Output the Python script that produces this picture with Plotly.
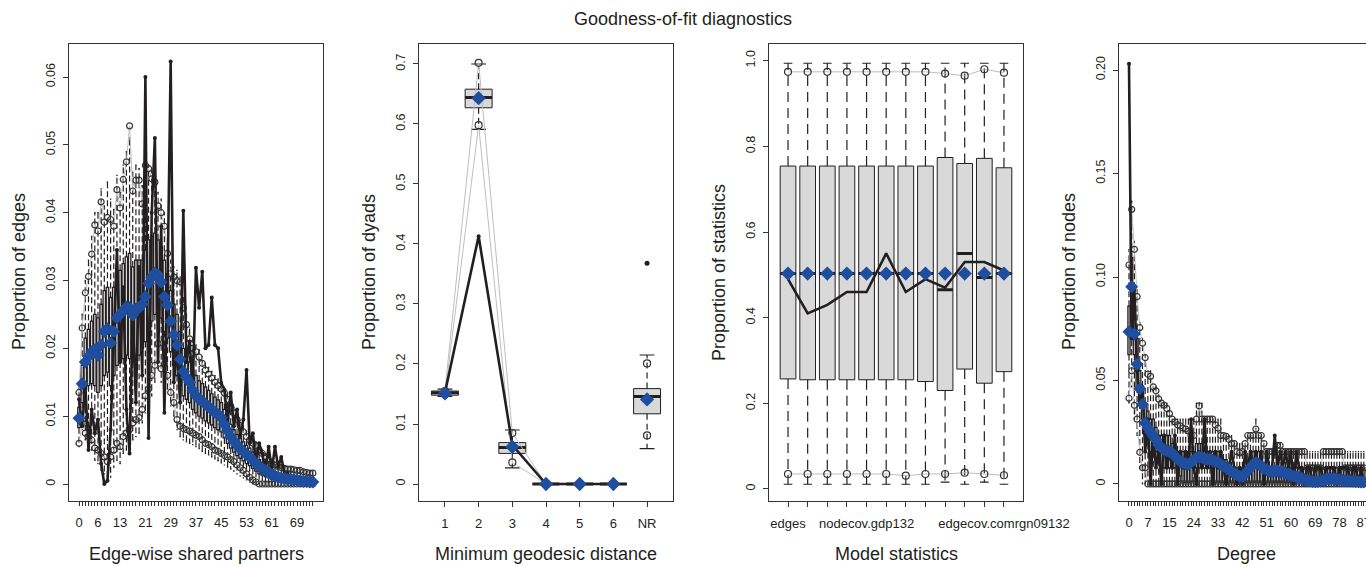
import plotly.graph_objects as go

# ===================== DATA =====================
# Panel 1 - edge-wise shared partners (categories 0..74)
esp_cat = list(range(75))
esp_tick_labels = ['0', '6', '13', '21', '29', '37', '45', '53', '61', '69']
esp_mean = [0.0097, 0.0148, 0.0180, 0.0188, 0.0195, 0.0198, 0.0190, 0.0205, 0.0225, 0.0229,
            0.0208, 0.0225, 0.0245, 0.0250, 0.0255, 0.0261, 0.0260, 0.0249, 0.0258, 0.0260,
            0.0265, 0.0276, 0.0296, 0.0305, 0.0311, 0.0308, 0.0298, 0.0276, 0.0264, 0.0240,
            0.0220, 0.0205, 0.0184, 0.0166, 0.0157, 0.0150, 0.0138, 0.0130, 0.0125, 0.0122,
            0.0118, 0.0114, 0.0110, 0.0106, 0.0102, 0.0098, 0.0088, 0.0078, 0.0070, 0.0063,
            0.0057, 0.0052, 0.0048, 0.0044, 0.0040, 0.0035, 0.0030, 0.0026, 0.0023, 0.0020,
            0.0017, 0.0014, 0.0012, 0.0010, 0.0009, 0.0008, 0.0007, 0.0007, 0.0006, 0.0006,
            0.0005, 0.0004, 0.0004, 0.0003, 0.0003]
esp_q3 = [0.0113, 0.0175, 0.0215, 0.0228, 0.0240, 0.0250, 0.0245, 0.0265, 0.0285, 0.0290,
          0.0275, 0.0290, 0.0310, 0.0315, 0.0325, 0.0335, 0.0340, 0.0320, 0.0330, 0.0330,
          0.0330, 0.0345, 0.0360, 0.0365, 0.0370, 0.0360, 0.0350, 0.0330, 0.0310, 0.0285,
          0.0265, 0.0250, 0.0225, 0.0200, 0.0190, 0.0180, 0.0168, 0.0160, 0.0152, 0.0148,
          0.0143, 0.0138, 0.0133, 0.0128, 0.0124, 0.0120, 0.0110, 0.0098, 0.0088, 0.0080,
          0.0073, 0.0067, 0.0062, 0.0057, 0.0053, 0.0047, 0.0041, 0.0036, 0.0032, 0.0028,
          0.0025, 0.0021, 0.0018, 0.0016, 0.0014, 0.0013, 0.0012, 0.0011, 0.0010, 0.0010,
          0.0009, 0.0008, 0.0008, 0.0007, 0.0007]
esp_q1 = [0.0083, 0.0120, 0.0140, 0.0145, 0.0148, 0.0145, 0.0135, 0.0145, 0.0160, 0.0165,
          0.0145, 0.0160, 0.0175, 0.0180, 0.0185, 0.0190, 0.0185, 0.0180, 0.0190, 0.0190,
          0.0200, 0.0210, 0.0230, 0.0240, 0.0250, 0.0255, 0.0245, 0.0225, 0.0215, 0.0195,
          0.0175, 0.0160, 0.0145, 0.0130, 0.0125, 0.0120, 0.0110, 0.0105, 0.0100, 0.0097,
          0.0093, 0.0090, 0.0087, 0.0083, 0.0080, 0.0077, 0.0068, 0.0060, 0.0053, 0.0047,
          0.0042, 0.0038, 0.0034, 0.0030, 0.0027, 0.0023, 0.0019, 0.0015, 0.0013, 0.0011,
          0.0009, 0.0007, 0.0005, 0.0004, 0.0003, 0.0002, 0.0002, 0.0002, 0.0001, 0.0001,
          0.0001, 0.0000, 0.0000, 0.0000, 0.0000]
esp_whi = [0.0150, 0.0250, 0.0300, 0.0330, 0.0365, 0.0400, 0.0400, 0.0435, 0.0410, 0.0445,
           0.0420, 0.0405, 0.0455, 0.0430, 0.0470, 0.0490, 0.0510, 0.0460, 0.0470, 0.0465,
           0.0440, 0.0475, 0.0470, 0.0465, 0.0460, 0.0430, 0.0420, 0.0400, 0.0360, 0.0330,
           0.0320, 0.0315, 0.0305, 0.0275, 0.0250, 0.0230, 0.0215, 0.0205, 0.0198, 0.0188,
           0.0178, 0.0172, 0.0166, 0.0160, 0.0155, 0.0150, 0.0143, 0.0133, 0.0123, 0.0113,
           0.0103, 0.0093, 0.0085, 0.0078, 0.0072, 0.0066, 0.0062, 0.0055, 0.0050, 0.0045,
           0.0040, 0.0035, 0.0032, 0.0030, 0.0028, 0.0026, 0.0025, 0.0025, 0.0024, 0.0023,
           0.0022, 0.0020, 0.0019, 0.0018, 0.0018]
esp_wlo = [0.0055, 0.0080, 0.0065, 0.0055, 0.0050, 0.0035, 0.0030, 0.0020, 0.0015, 0.0005,
           0.0010, 0.0025, 0.0035, 0.0030, 0.0045, 0.0050, 0.0055, 0.0065, 0.0070, 0.0075,
           0.0090, 0.0105, 0.0115, 0.0130, 0.0150, 0.0170, 0.0150, 0.0155, 0.0140, 0.0115,
           0.0100, 0.0080, 0.0070, 0.0065, 0.0062, 0.0060, 0.0058, 0.0055, 0.0052, 0.0048,
           0.0045, 0.0043, 0.0040, 0.0037, 0.0034, 0.0031, 0.0028, 0.0025, 0.0022, 0.0019,
           0.0015, 0.0012, 0.0009, 0.0006, 0.0003, 0.0000, 0.0000, 0.0000, 0.0000, 0.0000,
           0.0000, 0.0000, 0.0000, 0.0000, 0.0000, 0.0000, 0.0000, 0.0000, 0.0000, 0.0000,
           0.0000, 0.0000, 0.0000, 0.0000, 0.0000]
esp_hi95 = [0.0135, 0.0230, 0.0282, 0.0306, 0.0339, 0.0382, 0.0373, 0.0416, 0.0386, 0.0393,
            0.0390, 0.0380, 0.0434, 0.0407, 0.0449, 0.0475, 0.0528, 0.0432, 0.0448, 0.0448,
            0.0413, 0.0470, 0.0465, 0.0450, 0.0445, 0.0410, 0.0400, 0.0380, 0.0340, 0.0310,
            0.0305, 0.0300, 0.0298, 0.0260, 0.0235, 0.0214, 0.0200, 0.0195, 0.0187, 0.0178,
            0.0168, 0.0162, 0.0156, 0.0150, 0.0145, 0.0140, 0.0134, 0.0125, 0.0115, 0.0105,
            0.0095, 0.0086, 0.0077, 0.0070, 0.0065, 0.0060, 0.0057, 0.0050, 0.0045, 0.0040,
            0.0035, 0.0030, 0.0028, 0.0026, 0.0024, 0.0023, 0.0022, 0.0022, 0.0021, 0.0020,
            0.0020, 0.0018, 0.0017, 0.0016, 0.0016]
esp_lo95 = [0.0060, 0.0090, 0.0075, 0.0070, 0.0065, 0.0053, 0.0050, 0.0045, 0.0040, 0.0033,
            0.0040, 0.0050, 0.0060, 0.0055, 0.0070, 0.0075, 0.0080, 0.0090, 0.0095, 0.0098,
            0.0110, 0.0130, 0.0140, 0.0160, 0.0175, 0.0207, 0.0170, 0.0177, 0.0160, 0.0135,
            0.0120, 0.0095, 0.0085, 0.0082, 0.0080, 0.0078, 0.0075, 0.0072, 0.0070, 0.0065,
            0.0060, 0.0058, 0.0055, 0.0050, 0.0048, 0.0045, 0.0042, 0.0040, 0.0036, 0.0033,
            0.0028, 0.0024, 0.0020, 0.0015, 0.0010, 0.0006, 0.0003, 0.0000, 0.0000, 0.0000,
            0.0000, 0.0000, 0.0000, 0.0000, 0.0000, 0.0000, 0.0000, 0.0000, 0.0000, 0.0000,
            0.0000, 0.0000, 0.0000, 0.0000, 0.0000]
esp_obs = [0.0125, 0.0085, 0.0145, 0.0050, 0.0110, 0.0075, 0.0095, 0.0030, 0.0000, 0.0005,
           0.0080, 0.0220, 0.0345, 0.0180, 0.0290, 0.0110, 0.0045, 0.0250, 0.0120, 0.0320,
           0.0160, 0.0600, 0.0068, 0.0400, 0.0510, 0.0180, 0.0380, 0.0105, 0.0290, 0.0623,
           0.0150, 0.0200, 0.0120, 0.0403, 0.0180, 0.0210, 0.0140, 0.0319, 0.0260, 0.0313,
           0.0200, 0.0205, 0.0275, 0.0205, 0.0200, 0.0149, 0.0139, 0.0090, 0.0135, 0.0085,
           0.0110, 0.0070, 0.0095, 0.0168, 0.0060, 0.0075, 0.0030, 0.0060, 0.0045, 0.0020,
           0.0055, 0.0020, 0.0055, 0.0025, 0.0040, 0.0015, 0.0015, 0.0010, 0.0012, 0.0008,
           0.0010, 0.0005, 0.0008, 0.0004, 0.0005]

# Panel 2 - minimum geodesic distance
geo_cat = ['1', '2', '3', '4', '5', '6', 'NR']
geo_q1 = [0.148, 0.627, 0.051, 0.0, 0.0, 0.0, 0.117]
geo_med = [0.152, 0.644, 0.061, 0.0, 0.0, 0.0, 0.146]
geo_q3 = [0.155, 0.658, 0.069, 0.0, 0.0, 0.0, 0.159]
geo_wlo = [0.146, 0.591, 0.027, 0.0, 0.0, 0.0, 0.059]
geo_whi = [0.158, 0.700, 0.090, 0.0, 0.0, 0.0, 0.215]
geo_lo95 = [0.149, 0.598, 0.036, 0.0, 0.0, 0.0, 0.081]
geo_hi95 = [0.155, 0.702, 0.085, 0.0, 0.0, 0.0, 0.201]
geo_mean = [0.151, 0.643, 0.062, 0.0, 0.0, 0.0, 0.141]
geo_obs = [0.152, 0.413, 0.065, 0.0, 0.0, 0.0, 0.368]

# Panel 3 - model statistics
stat_cat = ['edges', '', '', '', 'nodecov.gdp132', '', '', '', '', '', '', 'edgecov.comrgn09132']
stat_q1 = [0.257, 0.255, 0.255, 0.255, 0.255, 0.255, 0.255, 0.251, 0.230, 0.280, 0.247, 0.274]
stat_med = [0.503, 0.503, 0.503, 0.503, 0.503, 0.503, 0.503, 0.503, 0.465, 0.550, 0.494, 0.503]
stat_q3 = [0.754, 0.754, 0.754, 0.754, 0.754, 0.754, 0.754, 0.754, 0.774, 0.760, 0.772, 0.750]
stat_wlo = [0.011, 0.011, 0.011, 0.011, 0.011, 0.011, 0.011, 0.011, 0.016, 0.011, 0.016, 0.011]
stat_whi = [0.994, 0.994, 0.994, 0.994, 0.994, 0.994, 0.994, 0.994, 0.994, 0.994, 0.994, 0.994]
stat_lo95 = [0.035, 0.035, 0.035, 0.035, 0.035, 0.035, 0.031, 0.035, 0.035, 0.038, 0.035, 0.032]
stat_hi95 = [0.974, 0.974, 0.974, 0.974, 0.974, 0.974, 0.974, 0.974, 0.970, 0.965, 0.980, 0.972]
stat_mean = [0.503, 0.503, 0.503, 0.503, 0.503, 0.503, 0.503, 0.503, 0.503, 0.503, 0.503, 0.503]
stat_obs = [0.490, 0.410, 0.430, 0.460, 0.460, 0.550, 0.460, 0.490, 0.470, 0.530, 0.530, 0.510]

# Panel 4 - degree (categories 0..87)
deg_cat = list(range(88))
deg_tick_labels = ['0', '7', '15', '24', '33', '42', '51', '60', '69', '78', '87']
deg_mean = [0.0736, 0.0953, 0.0725, 0.0578, 0.0460, 0.0385, 0.0295, 0.0270, 0.0250, 0.0230,
            0.0213, 0.0190, 0.0175, 0.0165, 0.0160, 0.0155, 0.0148, 0.0135, 0.0120, 0.0108,
            0.0102, 0.0098, 0.0095, 0.0105, 0.0115, 0.0125, 0.0132, 0.0128, 0.0122, 0.0118,
            0.0122, 0.0115, 0.0108, 0.0105, 0.0095, 0.0085, 0.0078, 0.0070, 0.0060, 0.0052,
            0.0045, 0.0037, 0.0035, 0.0048, 0.0062, 0.0078, 0.0095, 0.0103, 0.0095, 0.0085,
            0.0075, 0.0068, 0.0062, 0.0060, 0.0065, 0.0062, 0.0058, 0.0060, 0.0052, 0.0048,
            0.0042, 0.0038, 0.0034, 0.0030, 0.0026, 0.0022, 0.0018, 0.0015, 0.0012, 0.0011,
            0.0012, 0.0014, 0.0018, 0.0022, 0.0025, 0.0026, 0.0025, 0.0022, 0.0020, 0.0018,
            0.0016, 0.0015, 0.0014, 0.0013, 0.0012, 0.0011, 0.0010, 0.0010]
deg_q3 = [0.0859, 0.1094, 0.0859, 0.0703, 0.0547, 0.0469, 0.0391, 0.0352, 0.0313, 0.0313,
          0.0273, 0.0234, 0.0234, 0.0234, 0.0234, 0.0234, 0.0195, 0.0195, 0.0156, 0.0156,
          0.0156, 0.0156, 0.0156, 0.0156, 0.0156, 0.0195, 0.0195, 0.0195, 0.0156, 0.0156,
          0.0156, 0.0156, 0.0156, 0.0156, 0.0156, 0.0117, 0.0117, 0.0078, 0.0078, 0.0078,
          0.0078, 0.0078, 0.0078, 0.0078, 0.0078, 0.0117, 0.0156, 0.0156, 0.0156, 0.0117,
          0.0078, 0.0078, 0.0078, 0.0078, 0.0078, 0.0078, 0.0078, 0.0078, 0.0078, 0.0078,
          0.0078, 0.0078, 0.0078, 0.0078, 0.0078, 0.0078, 0.0078, 0.0078, 0.0078, 0.0078,
          0.0078, 0.0078, 0.0078, 0.0078, 0.0078, 0.0078, 0.0078, 0.0078, 0.0078, 0.0078,
          0.0078, 0.0078, 0.0078, 0.0078, 0.0078, 0.0078, 0.0078, 0.0078]
deg_q1 = [0.0625, 0.0781, 0.0625, 0.0469, 0.0391, 0.0313, 0.0234, 0.0195, 0.0156, 0.0156,
          0.0156, 0.0117, 0.0078, 0.0078, 0.0078, 0.0078, 0.0078, 0.0078, 0.0078, 0.0039,
          0.0000, 0.0000, 0.0000, 0.0000, 0.0078, 0.0078, 0.0078, 0.0078, 0.0078, 0.0078,
          0.0078, 0.0039, 0.0000, 0.0000, 0.0000, 0.0000, 0.0000, 0.0000, 0.0000, 0.0000,
          0.0000, 0.0000, 0.0000, 0.0000, 0.0000, 0.0000, 0.0000, 0.0000, 0.0000, 0.0000,
          0.0000, 0.0000, 0.0000, 0.0000, 0.0000, 0.0000, 0.0000, 0.0000, 0.0000, 0.0000,
          0.0000, 0.0000, 0.0000, 0.0000, 0.0000, 0.0000, 0.0000, 0.0000, 0.0000, 0.0000,
          0.0000, 0.0000, 0.0000, 0.0000, 0.0000, 0.0000, 0.0000, 0.0000, 0.0000, 0.0000,
          0.0000, 0.0000, 0.0000, 0.0000, 0.0000, 0.0000, 0.0000, 0.0000]
deg_whi = [0.1133, 0.1367, 0.1172, 0.0938, 0.0781, 0.0703, 0.0625, 0.0547, 0.0547, 0.0469,
           0.0469, 0.0430, 0.0391, 0.0391, 0.0391, 0.0352, 0.0313, 0.0313, 0.0313, 0.0313,
           0.0313, 0.0313, 0.0313, 0.0313, 0.0313, 0.0391, 0.0391, 0.0391, 0.0313, 0.0313,
           0.0313, 0.0313, 0.0313, 0.0313, 0.0313, 0.0234, 0.0234, 0.0234, 0.0234, 0.0195,
           0.0195, 0.0195, 0.0195, 0.0195, 0.0234, 0.0234, 0.0234, 0.0313, 0.0234, 0.0234,
           0.0195, 0.0156, 0.0156, 0.0156, 0.0156, 0.0195, 0.0195, 0.0156, 0.0156, 0.0156,
           0.0156, 0.0156, 0.0156, 0.0156, 0.0156, 0.0156, 0.0156, 0.0156, 0.0156, 0.0156,
           0.0156, 0.0156, 0.0156, 0.0156, 0.0156, 0.0156, 0.0156, 0.0156, 0.0156, 0.0156,
           0.0156, 0.0156, 0.0156, 0.0156, 0.0156, 0.0156, 0.0156, 0.0156]
deg_wlo = [0.0391, 0.0469, 0.0313, 0.0234, 0.0078, 0.0000, 0.0000, 0.0000, 0.0000, 0.0000,
           0.0000, 0.0000, 0.0000, 0.0000, 0.0000, 0.0000, 0.0000, 0.0000, 0.0000, 0.0000,
           0.0000, 0.0000, 0.0000, 0.0000, 0.0000, 0.0000, 0.0000, 0.0000, 0.0000, 0.0000,
           0.0000, 0.0000, 0.0000, 0.0000, 0.0000, 0.0000, 0.0000, 0.0000, 0.0000, 0.0000,
           0.0000, 0.0000, 0.0000, 0.0000, 0.0000, 0.0000, 0.0000, 0.0000, 0.0000, 0.0000,
           0.0000, 0.0000, 0.0000, 0.0000, 0.0000, 0.0000, 0.0000, 0.0000, 0.0000, 0.0000,
           0.0000, 0.0000, 0.0000, 0.0000, 0.0000, 0.0000, 0.0000, 0.0000, 0.0000, 0.0000,
           0.0000, 0.0000, 0.0000, 0.0000, 0.0000, 0.0000, 0.0000, 0.0000, 0.0000, 0.0000,
           0.0000, 0.0000, 0.0000, 0.0000, 0.0000, 0.0000, 0.0000, 0.0000]
deg_hi95 = [0.1058, 0.1327, 0.1134, 0.0905, 0.0755, 0.0680, 0.0610, 0.0530, 0.0520, 0.0469,
            0.0450, 0.0410, 0.0391, 0.0380, 0.0365, 0.0340, 0.0313, 0.0300, 0.0285, 0.0280,
            0.0270, 0.0265, 0.0255, 0.0234, 0.0234, 0.0313, 0.0377, 0.0313, 0.0313, 0.0313,
            0.0313, 0.0313, 0.0285, 0.0270, 0.0234, 0.0234, 0.0230, 0.0215, 0.0195, 0.0195,
            0.0156, 0.0150, 0.0156, 0.0195, 0.0234, 0.0234, 0.0234, 0.0265, 0.0234, 0.0234,
            0.0195, 0.0156, 0.0156, 0.0156, 0.0156, 0.0186, 0.0186, 0.0156, 0.0156, 0.0156,
            0.0156, 0.0156, 0.0156, 0.0156, 0.0156, 0.0156, 0.0078, 0.0078, 0.0078, 0.0078,
            0.0078, 0.0078, 0.0156, 0.0156, 0.0156, 0.0156, 0.0156, 0.0156, 0.0156, 0.0156,
            0.0078, 0.0078, 0.0078, 0.0078, 0.0078, 0.0078, 0.0078, 0.0078]
deg_lo95 = [0.0414, 0.0547, 0.0380, 0.0313, 0.0153, 0.0078, 0.0078, 0.0000, 0.0000, 0.0000,
            0.0000, 0.0000, 0.0000, 0.0000, 0.0000, 0.0000, 0.0000, 0.0000, 0.0000, 0.0000,
            0.0000, 0.0000, 0.0000, 0.0000, 0.0000, 0.0000, 0.0000, 0.0000, 0.0000, 0.0000,
            0.0000, 0.0000, 0.0000, 0.0000, 0.0000, 0.0000, 0.0000, 0.0000, 0.0000, 0.0000,
            0.0000, 0.0000, 0.0000, 0.0000, 0.0000, 0.0000, 0.0000, 0.0000, 0.0000, 0.0000,
            0.0000, 0.0000, 0.0000, 0.0000, 0.0000, 0.0000, 0.0000, 0.0000, 0.0000, 0.0000,
            0.0000, 0.0000, 0.0000, 0.0000, 0.0000, 0.0000, 0.0000, 0.0000, 0.0000, 0.0000,
            0.0000, 0.0000, 0.0000, 0.0000, 0.0000, 0.0000, 0.0000, 0.0000, 0.0000, 0.0000,
            0.0000, 0.0000, 0.0000, 0.0000, 0.0000, 0.0000, 0.0000, 0.0000]
deg_obs = [0.2031, 0.0703, 0.0938, 0.0547, 0.0391, 0.0469, 0.0156, 0.0313, 0.0000, 0.0234,
           0.0078, 0.0156, 0.0000, 0.0234, 0.0078, 0.0156, 0.0078, 0.0234, 0.0000, 0.0156,
           0.0078, 0.0156, 0.0078, 0.0313, 0.0078, 0.0000, 0.0156, 0.0078, 0.0313, 0.0078,
           0.0156, 0.0000, 0.0156, 0.0078, 0.0156, 0.0078, 0.0000, 0.0078, 0.0156, 0.0078,
           0.0000, 0.0078, 0.0000, 0.0156, 0.0078, 0.0156, 0.0078, 0.0156, 0.0078, 0.0156,
           0.0000, 0.0156, 0.0078, 0.0078, 0.0234, 0.0078, 0.0156, 0.0078, 0.0156, 0.0078,
           0.0156, 0.0000, 0.0156, 0.0078, 0.0078, 0.0000, 0.0078, 0.0078, 0.0000, 0.0078,
           0.0078, 0.0078, 0.0000, 0.0078, 0.0078, 0.0078, 0.0078, 0.0000, 0.0078, 0.0078,
           0.0078, 0.0078, 0.0000, 0.0078, 0.0078, 0.0000, 0.0078, 0.0000]

# ===================== STYLE =====================
W, H = 1366, 566
FONT = "Liberation Sans, Arial, Helvetica, sans-serif"
INK = "#231f20"
FRAME = "#333333"
BOXFILL = "#d9d9d9"
GREY = "#bebebe"
BLUE = "#1f4e9f"

fig = go.Figure()


def vsegs(xs, a, b):
    X, Y = [], []
    for x, y0, y1 in zip(xs, a, b):
        if y0 != y1:
            X += [x, x, None]
            Y += [y0, y1, None]
    return X, Y


def hsegs(xs, ys, half):
    X, Y = [], []
    for x, y in zip(xs, ys):
        X += [x - half, x + half, None]
        Y += [y, y, None]
    return X, Y


def add_panel(k, xs, q1, med, q3, wlo, whi, lo95, hi95, mean, obs, groups,
              thick_median, obs_markers, dash, diamond_size, circle_size, box_lw):
    ax = dict(xaxis="x" + k, yaxis="y" + k, showlegend=False, hoverinfo="skip")
    fig.add_trace(go.Box(x=xs, q1=q1, median=med, q3=q3, lowerfence=q1, upperfence=q3,
                         width=0.8, whiskerwidth=0, boxpoints=False, fillcolor=BOXFILL,
                         line=dict(color=INK, width=box_lw), **ax))
    wx1, wy1 = vsegs(xs, q3, whi)
    wx2, wy2 = vsegs(xs, q1, wlo)
    fig.add_trace(go.Scatter(x=wx1 + wx2, y=wy1 + wy2, mode="lines",
                             line=dict(color=INK, width=1.2, dash=dash), **ax))
    cx1, cy1 = hsegs(xs, whi, 0.22)
    cx2, cy2 = hsegs(xs, wlo, 0.22)
    fig.add_trace(go.Scatter(x=cx1 + cx2, y=cy1 + cy2, mode="lines",
                             line=dict(color=INK, width=1.2), **ax))
    if thick_median:
        mx, my = hsegs(xs, med, 0.4)
        fig.add_trace(go.Scatter(x=mx, y=my, mode="lines",
                                 line=dict(color=INK, width=3), **ax))
    for band in (hi95, lo95):
        for g in groups:
            fig.add_trace(go.Scatter(
                x=[xs[i] for i in g], y=[band[i] for i in g],
                mode="lines+markers" if len(g) > 1 else "markers",
                line=dict(color=GREY, width=1),
                marker=dict(symbol="circle-open", size=circle_size, color="#333333",
                            line=dict(width=1.2, color="#333333")), **ax))
    for g in groups:
        if len(g) > 1:
            fig.add_trace(go.Scatter(
                x=[xs[i] for i in g], y=[obs[i] for i in g],
                mode="lines+markers" if obs_markers else "lines",
                line=dict(color=INK, width=2.6),
                marker=dict(size=4, color=INK), **ax))
        else:
            fig.add_trace(go.Scatter(
                x=[xs[i] for i in g], y=[obs[i] for i in g], mode="markers",
                marker=dict(size=5, color=INK), **ax))
    fig.add_trace(go.Scatter(x=xs, y=mean, mode="markers",
                             marker=dict(symbol="diamond", size=diamond_size, color=BLUE,
                                         line=dict(width=0)), **ax))


geo_x = list(range(len(geo_cat)))
stat_x = list(range(len(stat_cat)))

add_panel("", esp_cat, esp_q1, esp_mean, esp_q3, esp_wlo, esp_whi, esp_lo95, esp_hi95,
          esp_mean, esp_obs, [list(range(len(esp_cat)))], False, True, "6px,3px", 10, 6, 1.3)
add_panel("2", geo_x, geo_q1, geo_med, geo_q3, geo_wlo, geo_whi, geo_lo95, geo_hi95,
          geo_mean, geo_obs, [[0, 1, 2, 3, 4, 5], [6]], True, True, "6px,4px", 11, 7, 1)
add_panel("3", stat_x, stat_q1, stat_med, stat_q3, stat_wlo, stat_whi, stat_lo95, stat_hi95,
          stat_mean, stat_obs, [list(range(len(stat_cat)))], True, False, "10px,6px", 11, 7, 1)
add_panel("4", deg_cat, deg_q1, deg_mean, deg_q3, deg_wlo, deg_whi, deg_lo95, deg_hi95,
          deg_mean, deg_obs, [list(range(len(deg_cat)))], False, True, "6px,3px", 10, 6, 1.3)

# ===================== LAYOUT =====================
PLOT_TOP, PLOT_BOT = 44, 500.5
ydom = [(H - PLOT_BOT) / H, (H - PLOT_TOP) / H]
lefts = [69, 419, 769, 1119]
rights = [323, 673, 1023, 1366]

esp_ticktext = [str(c) if str(c) in esp_tick_labels else "" for c in esp_cat]
deg_ticktext = [str(c) if str(c) in deg_tick_labels else "" for c in deg_cat]

xcfg = [
    dict(range=[-3.17, 77.2], tickvals=esp_cat, ticktext=esp_ticktext, ticklen=4),
    dict(range=[-0.77, 6.77], tickvals=geo_x, ticktext=geo_cat, ticklen=5),
    dict(range=[-0.97, 11.97], tickvals=stat_x, ticktext=stat_cat, ticklen=5),
    dict(range=[-3.7, 87.8], tickvals=deg_cat, ticktext=deg_ticktext, ticklen=4,
         ticklabeloverflow="allow"),
]
ycfg = [
    dict(range=[-0.00243, 0.06487], tickvals=[0, 0.01, 0.02, 0.03, 0.04, 0.05, 0.06],
         ticktext=["0", "0.01", "0.02", "0.03", "0.04", "0.05", "0.06"]),
    dict(range=[-0.0275, 0.7333], tickvals=[0, 0.1, 0.2, 0.3, 0.4, 0.5, 0.6, 0.7],
         ticktext=["0", "0.1", "0.2", "0.3", "0.4", "0.5", "0.6", "0.7"]),
    dict(range=[-0.0269, 1.039], tickvals=[0, 0.2, 0.4, 0.6, 0.8, 1.0],
         ticktext=["0", "0.2", "0.4", "0.6", "0.8", "1.0"]),
    dict(range=[-0.0080, 0.2126], tickvals=[0, 0.05, 0.10, 0.15, 0.20],
         ticktext=["0", "0.05", "0.10", "0.15", "0.20"]),
]

layout = dict(width=W, height=H, autosize=False,
              margin=dict(l=0, r=0, t=0, b=0, pad=0, autoexpand=False),
              paper_bgcolor="white", plot_bgcolor="white",
              font=dict(family=FONT, color=INK), showlegend=False)
for i in range(4):
    k = "" if i == 0 else str(i + 1)
    xa = dict(domain=[lefts[i] / W, rights[i] / W], anchor="y" + k, ticks="outside",
              tickcolor=FRAME, showline=True, linecolor=FRAME, linewidth=1, mirror=True,
              showgrid=False, zeroline=False, tickangle=0, ticklabelstandoff=6,
              automargin=False, tickfont=dict(size=13, family=FONT, color=INK))
    xa.update(xcfg[i])
    ya = dict(domain=ydom, anchor="x" + k, ticks="outside", ticklen=5, tickcolor=FRAME,
              showline=True, linecolor=FRAME, linewidth=1, mirror=(i < 3),
              showgrid=False, zeroline=False, tickangle=-90, ticklabelstandoff=3,
              automargin=False, tickfont=dict(size=12.5, family=FONT, color=INK))
    ya.update(ycfg[i])
    layout["xaxis" + k] = xa
    layout["yaxis" + k] = ya

x_titles = ["Edge-wise shared partners", "Minimum geodesic distance", "Model statistics", "Degree"]
y_titles = ["Proportion of edges", "Proportion of dyads", "Proportion of statistics", "Proportion of nodes"]
x_centers = [196, 546, 896, 1246]
annotations = [dict(text="Goodness-of-fit diagnostics", x=683 / W, y=(H - 19) / H,
                    xref="paper", yref="paper", xanchor="center", yanchor="middle",
                    showarrow=False, font=dict(size=18, family=FONT, color=INK))]
for i in range(4):
    annotations.append(dict(text=x_titles[i], x=x_centers[i] / W, y=(H - 554) / H,
                            xref="paper", yref="paper", xanchor="center", yanchor="middle",
                            showarrow=False, font=dict(size=18, family=FONT, color=INK)))
    annotations.append(dict(text=y_titles[i], x=(lefts[i] - 50) / W, y=(H - 272) / H,
                            xref="paper", yref="paper", xanchor="center", yanchor="middle",
                            textangle=-90, showarrow=False,
                            font=dict(size=18, family=FONT, color=INK)))
layout["annotations"] = annotations
fig.update_layout(**layout)

fig.write_html(
    "out.html",
    config={"responsive": False, "displayModeBar": False},
    post_script=("document.documentElement.style.margin='0';"
                 "document.documentElement.style.overflow='hidden';"
                 "document.body.style.margin='0';document.body.style.padding='0';"
                 "document.body.style.overflow='hidden';"),
)
